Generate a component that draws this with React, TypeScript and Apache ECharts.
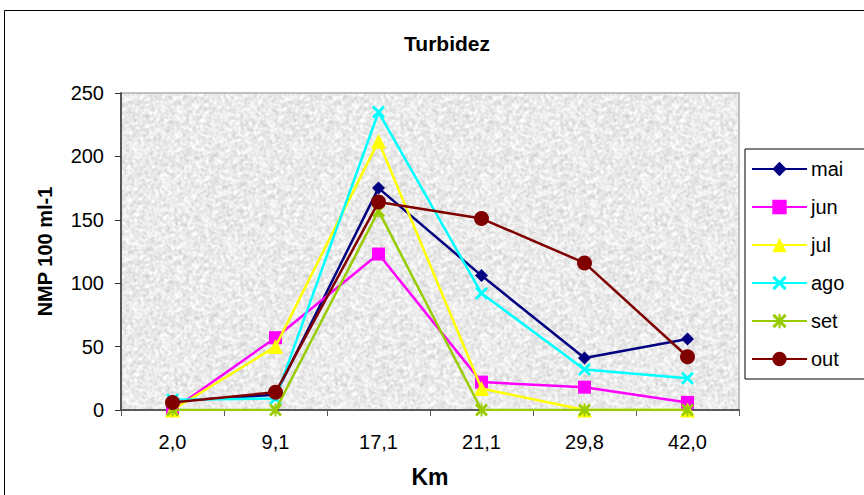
import React, { useEffect, useRef } from "react";
import * as echarts from "echarts";

// Distance along the river (km) and monthly turbidity readings
const categories = ["2,0", "9,1", "17,1", "21,1", "29,8", "42,0"];
const mai = [7, 12, 175, 106, 41, 56];
const jun = [0, 57, 123, 22, 18, 6];
const jul = [0, 50, 212, 17, 0, 0];
const ago = [8, 9, 235, 92, 32, 25];
const set = [0, 0, 157, 0, 0, 0];
const out = [6, 14, 164, 151, 116, 42];

const seriesNames = ["mai", "jun", "jul", "ago", "set", "out"];
const seriesData = [mai, jun, jul, ago, set, out];
const seriesColors = ["#000080", "#FF00FF", "#FFFF00", "#00FFFF", "#99CC00", "#800000"];

// Filled "x" and asterisk glyphs for the marker shapes
const crossPath =
  "path://M0,1.5L1.5,0L5,3.5L8.5,0L10,1.5L6.5,5L10,8.5L8.5,10L5,6.5L1.5,10L0,8.5L3.5,5Z";
const starPath =
  "path://M0,1.5L1.5,0L5,3.5L8.5,0L10,1.5L6.5,5L10,8.5L8.5,10L5,6.5L1.5,10L0,8.5L3.5,5Z M4.3,0L5.7,0L5.7,10L4.3,10Z";
const symbols = ["diamond", "rect", "triangle", crossPath, starPath, "circle"];
const symbolSizes = [13, 13, 15, 13, 13, 15];

// Grainy grey fill for the plotting area
function makeGrain(): string {
  const size = 160;
  const c = document.createElement("canvas");
  c.width = size;
  c.height = size;
  const ctx = c.getContext("2d");
  if (!ctx) return "";
  const img = ctx.createImageData(size, size);
  let seed = 1234567;
  const rnd = () => {
    seed = (seed * 1103515245 + 12345) & 0x7fffffff;
    return seed / 0x7fffffff;
  };
  const raw = new Float32Array(size * size);
  for (let i = 0; i < raw.length; i++) raw[i] = rnd();
  for (let y = 0; y < size; y++) {
    for (let x = 0; x < size; x++) {
      let s = 0;
      for (let dy = -1; dy <= 1; dy++)
        for (let dx = -1; dx <= 1; dx++)
          s += raw[((y + dy + size) % size) * size + ((x + dx + size) % size)];
      s /= 9;
      const v = Math.round(234 - (s - 0.5) * 95);
      const p = (y * size + x) * 4;
      img.data[p] = v;
      img.data[p + 1] = v;
      img.data[p + 2] = v;
      img.data[p + 3] = 255;
    }
  }
  ctx.putImageData(img, 0, 0);
  return c.toDataURL();
}

export default function App() {
  const ref = useRef<HTMLDivElement>(null);

  useEffect(() => {
    if (!ref.current) return;
    document.body.style.margin = "0";
    const chart = echarts.init(ref.current, null, { renderer: "svg" });
    const grain = makeGrain();
    const font = "Arial, 'Liberation Sans', sans-serif";

    chart.setOption({
      animation: false,
      backgroundColor: "#ffffff",
      textStyle: { fontFamily: font },
      title: {
        text: "Turbidez",
        left: 442,
        top: 28,
        textAlign: "center",
        textStyle: { fontSize: 21, fontWeight: "bold", color: "#000", fontFamily: font },
      },
      graphic: [
        {
          type: "rect",
          shape: { x: 4.5, y: 10.5, width: 1000, height: 1000 },
          style: { fill: "none", stroke: "#000", lineWidth: 1 },
          z: -10,
          silent: true,
        },
      ],
      grid: {
        left: 121,
        top: 93,
        width: 618,
        height: 317,
        show: true,
        backgroundColor: grain ? { image: grain, repeat: "repeat" } : "#e3e3e3",
        borderColor: "#c0c0c0",
        borderWidth: 2,
      },
      legend: {
        orient: "vertical",
        left: 745,
        top: 149,
        width: 105,
        padding: [10, 30, 10, 6],
        itemWidth: 55,
        itemHeight: 18,
        itemGap: 18,
        backgroundColor: "#ffffff",
        borderColor: "#000",
        borderWidth: 1,
        textStyle: { fontSize: 20, lineHeight: 20, color: "#000", fontFamily: font, padding: [0, 0, 0, -1] },
        data: seriesNames,
      },
      xAxis: {
        type: "category",
        data: categories,
        boundaryGap: true,
        name: "Km",
        nameLocation: "middle",
        nameGap: 55,
        nameTextStyle: { fontSize: 23, fontWeight: "bold", color: "#000", fontFamily: font },
        axisLine: { lineStyle: { color: "#595959", width: 2 } },
        axisTick: { show: true, length: 6, inside: false, lineStyle: { color: "#595959", width: 1 } },
        axisLabel: { fontSize: 20, color: "#000", margin: 22, fontFamily: font },
        splitLine: { show: false },
      },
      yAxis: {
        type: "value",
        min: 0,
        max: 250,
        interval: 50,
        name: "NMP 100 ml-1",
        nameLocation: "middle",
        nameGap: 66,
        nameTextStyle: { fontSize: 20, fontWeight: "bold", color: "#000", fontFamily: font },
        axisLine: { show: true, lineStyle: { color: "#333", width: 1.5 } },
        axisTick: { show: true, length: 6, lineStyle: { color: "#333", width: 1 } },
        axisLabel: { fontSize: 20, color: "#000", margin: 17, fontFamily: font },
        splitLine: { show: false },
      },
      series: seriesNames.map((name, i) => ({
        name,
        type: "line",
        data: seriesData[i],
        symbol: symbols[i],
        symbolSize: symbolSizes[i],
        showAllSymbol: true,
        color: seriesColors[i],
        lineStyle: { color: seriesColors[i], width: 2.5 },
        itemStyle: { color: seriesColors[i] },
        emphasis: { disabled: true },
        z: 2 + i,
      })),
    });

    return () => chart.dispose();
  }, []);

  return (
    <div
      ref={ref}
      style={{ position: "absolute", left: 0, top: 0, width: 864, height: 495 }}
    />
  );
}
